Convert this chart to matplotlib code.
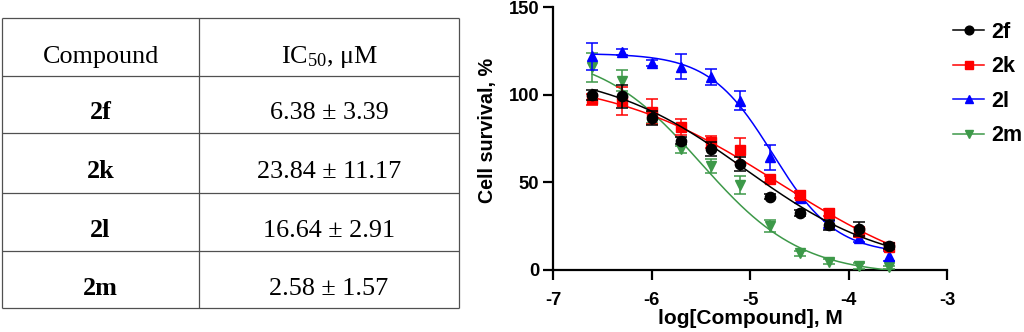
import numpy as np
import matplotlib
matplotlib.use("Agg")
import matplotlib.pyplot as plt
from matplotlib.lines import Line2D

plt.rcParams['mathtext.fontset'] = 'custom'
plt.rcParams['mathtext.rm'] = 'Liberation Serif'
plt.rcParams['mathtext.it'] = 'Liberation Serif:italic'
plt.rcParams['mathtext.bf'] = 'Liberation Serif:bold'

# ---------------- data ----------------
compounds = ["2f", "2k", "2l", "2m"]
ic50_text = ["6.38 ± 3.39", "23.84 ± 11.17", "16.64 ± 2.91", "2.58 ± 1.57"]

log_conc = [-6.602, -6.301, -6.000, -5.699, -5.398, -5.097, -4.796, -4.495, -4.194, -3.893, -3.592]

surv_2f = [99.8, 99.0, 86.5, 73.8, 68.8, 60.5, 41.8, 32.5, 25.7, 23.3, 13.7]
err_2f = [3.0, 6.5, 4.0, 2.0, 4.0, 4.0, 1.5, 1.5, 3.0, 4.0, 1.5]
surv_2k = [97.3, 96.5, 90.3, 81.4, 73.2, 68.4, 51.9, 43.0, 32.7, 21.6, 13.3]
err_2k = [3.0, 8.0, 7.0, 4.5, 3.5, 6.7, 1.5, 2.0, 2.0, 3.0, 2.0]
surv_2l = [121.8, 124.3, 118.0, 116.0, 110.0, 96.6, 64.3, 41.0, 26.0, 18.0, 8.0]
err_2l = [7.6, 1.5, 1.5, 7.0, 4.5, 5.5, 7.0, 3.0, 2.0, 2.0, 3.0]
surv_2m = [115.5, 108.0, 87.0, 69.0, 59.5, 48.5, 25.0, 9.5, 4.8, 2.3, 1.5]
err_2m = [8.2, 6.0, 3.0, 2.0, 4.0, 5.0, 3.3, 1.5, 1.5, 1.5, 1.0]

# four-parameter logistic fit parameters (2f, 2k, 2l, 2m)
fit_top = [115.0, 110.8, 123.5, 125.0]
fit_bottom = [0.0, -12.0, 9.0, -3.0]
fit_logic50 = [-5.05, -4.70, -4.77, -5.50]
fit_hill = [0.60, 0.50, 1.35, 0.85]

colors = ["#000000", "#ff0000", "#0000ff", "#3d9949"]
markers = ["o", "s", "^", "v"]
msizes = [7.4, 6.6, 7.6, 7.6]

xticks = [-7, -6, -5, -4, -3]
yticks = [0, 50, 100, 150]

surv = [surv_2f, surv_2k, surv_2l, surv_2m]
errs = [err_2f, err_2k, err_2l, err_2m]

W, H = 1024, 332
fig = plt.figure(figsize=(W / 100, H / 100), dpi=100)

# ---------------- table (pixel overlay) ----------------
ov = fig.add_axes([0, 0, 1, 1])
ov.set_xlim(0, W)
ov.set_ylim(H, 0)
ov.axis('off')

row_y = [18.3, 76.0, 133.3, 192.7, 250.7, 308.3]
tab_x0, tab_xm, tab_x1 = 2.0, 199.0, 459.0
lc = "#505050"
for y in row_y:
    ov.plot([tab_x0, tab_x1], [y, y], color=lc, lw=0.9, solid_capstyle='butt')
for x in (tab_x0, tab_xm, tab_x1):
    ov.plot([x, x], [row_y[0], row_y[-1]], color=lc, lw=0.9, solid_capstyle='butt')

c1 = (tab_x0 + tab_xm) / 2
c2 = (tab_xm + tab_x1) / 2
serif = 'Liberation Serif'
fs_tab = 18.8
ov.text(c1, 62.7, "Compound", ha='center', va='baseline', fontsize=fs_tab, family=serif)
ov.text(c2, 62.7, r"IC$_{\mathrm{50}}$, μM", ha='center', va='baseline', fontsize=fs_tab, family=serif)
baselines = [119.3, 178.3, 236.7, 295.0]
for name, val, yb in zip(compounds, ic50_text, baselines):
    ov.text(c1, yb, name, ha='center', va='baseline', fontsize=fs_tab, family=serif, fontweight='bold')
    ov.text(c2, yb, val, ha='center', va='baseline', fontsize=fs_tab, family=serif)

# ---------------- dose-response plot ----------------
ax_l, ax_r, ax_t, ax_b = 553, 947, 7, 270
ax = fig.add_axes([ax_l / W, 1 - ax_b / H, (ax_r - ax_l) / W, (ax_b - ax_t) / H])
ax.set_xlim(-7, -3)
ax.set_ylim(0, 150)
for s in ('top', 'right'):
    ax.spines[s].set_visible(False)
for s in ('left', 'bottom'):
    ax.spines[s].set_linewidth(1.6)
ax.set_xticks(xticks)
ax.set_yticks(yticks)
ax.set_xticklabels([f"{t}" for t in xticks])
ax.tick_params(axis='both', direction='out', length=7.5, width=1.6, labelsize=13.2)
ax.tick_params(axis='x', pad=8)
ax.tick_params(axis='y', pad=2.5)
sans = 'Liberation Sans'
for lab in ax.get_xticklabels() + ax.get_yticklabels():
    lab.set_family(sans)
    lab.set_fontweight('bold')
ax.patch.set_alpha(0)

xfit = np.linspace(log_conc[0], log_conc[-1], 300)
order = [3, 2, 1, 0]  # draw 2m, 2l, 2k, 2f (2f on top)
for k, i in enumerate(order):
    z = 3 + k * 3
    ax.errorbar(log_conc, surv[i], yerr=errs[i], fmt='none', ecolor=colors[i],
                elinewidth=1.1, capsize=4.5, capthick=1.1, zorder=z, clip_on=False)
    yfit = fit_bottom[i] + (fit_top[i] - fit_bottom[i]) / (1 + 10 ** ((xfit - fit_logic50[i]) * fit_hill[i]))
    ax.plot(xfit, yfit, color=colors[i], lw=1.1, zorder=z + 1)
    ax.plot(log_conc, surv[i], ls='none', marker=markers[i], ms=msizes[i], color=colors[i],
            mec=colors[i], zorder=z + 2, clip_on=False)

# axis labels
ov.text(488, 130, "Cell survival, %", rotation=90, ha='center', va='center',
        fontsize=14.2, family=sans, fontweight='bold')
ov.text((ax_l + ax_r) / 2, 324, "log[Compound], M", ha='center', va='baseline',
        fontsize=15, family=sans, fontweight='bold')

# legend
handles = [Line2D([], [], color=colors[i], lw=1.1, marker=markers[i], ms=msizes[i] * 0.85)
           for i in range(4)]
leg = fig.legend(handles, compounds, loc='upper left',
                 bbox_to_anchor=(953 / W, 1 - 22 / H), bbox_transform=fig.transFigure,
                 frameon=False, borderpad=0, borderaxespad=0, handlelength=1.45,
                 handletextpad=0.35, labelspacing=0.62,
                 prop={'family': sans, 'weight': 'bold', 'size': 15.5})

fig.savefig("out.png", dpi=100)
